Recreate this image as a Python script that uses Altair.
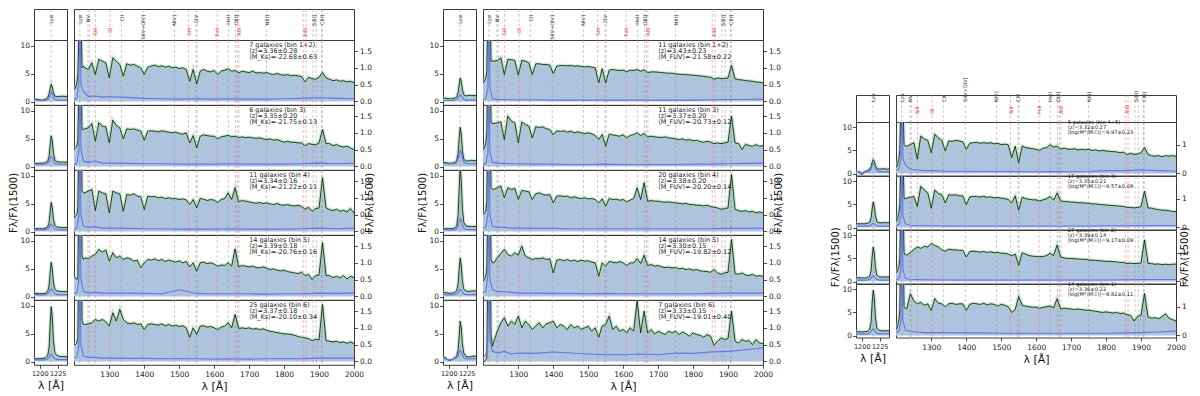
import altair as alt
import pandas as pd

FONT = "DejaVu Sans"
FILL = "#aec3dd"
BLACK = "#0d0d0d"
HALO = "#9edaa9"
ERRC = "#6673ee"
FRAME = "#3a3a3a"
GREY = "#9a9a9a"
RED = "#f07878"
TXT = "#222222"

# ---------------- wavelength grids ----------------
R_WAVE = [1199, 1203, 1207, 1210, 1213, 1216, 1219, 1222, 1226,
          1230, 1240, 1250, 1260, 1270, 1280, 1290, 1300, 1310, 1320,
          1330, 1340, 1350, 1360, 1370, 1380, 1390, 1400, 1410, 1420,
          1430, 1440, 1450, 1460, 1470, 1480, 1490, 1500, 1510, 1520,
          1530, 1540, 1550, 1560, 1570, 1580, 1590, 1600, 1610, 1620,
          1630, 1640, 1650, 1660, 1670, 1680, 1690, 1700, 1710, 1720,
          1730, 1740, 1750, 1760, 1770, 1780, 1790, 1800, 1810, 1820,
          1830, 1840, 1850, 1860, 1870, 1880, 1890, 1900, 1910, 1920,
          1930, 1940, 1950, 1960, 1970, 1980, 1990, 2000]
L_WAVE = [1192, 1196, 1200, 1204, 1208, 1211, 1213, 1214.5, 1216, 1217.5,
          1219, 1221, 1224, 1228, 1232, 1235, 1238]
E_WAVE = [1199, 1207, 1213, 1216, 1219, 1226, 1240, 1260, 1280, 1300, 1350, 1400,
          1450, 1500, 1550, 1600, 1650, 1700, 1750, 1800, 1850, 1900, 1950, 2000]

# ---------------- spectral line markers ----------------
MARK_WAVE = [1215.7, 1238.8, 1242.8, 1260.4, 1302.2, 1334.5, 1397.0, 1486.5, 1526.7,
             1548.2, 1550.8, 1608.5, 1640.4, 1660.8, 1666.2, 1670.8, 1750.0, 1854.7,
             1862.8, 1882.7, 1892.0, 1907.0, 1909.0]
MARK_KIND = ["em", "em", "em", "abs", "abs", "em", "em", "em", "abs",
             "em", "em", "abs", "em", "em", "em", "abs", "em", "abs",
             "abs", "em", "em", "em", "em"]
LABEL_TEXT = ["Lyα", "NV", "CII", "SiIV+OIV]", "NIV]", "CIV", "HeII", "OIII]", "NIII]",
              "SiIII]", "CIII]", "SiII", "OI", "SiII", "FeII", "AlII", "AlIII"]
LABEL_WAVE = [1216, 1240, 1335, 1397, 1486, 1549, 1640, 1663, 1750,
              1886, 1908, 1260, 1302, 1527, 1608, 1671, 1859]
LABEL_KIND = ["em"] * 11 + ["abs"] * 6

# ---------------- group 1: M_Ks bins ----------------
KS_B12 = [0.35, 0.4, 0.55, 0.8, 2.0, 5.0, 2.5, 1.0, 1.05,
          1.0, 0.95, 1.15, 0.8, 1.25, 1.2, 1.15, 0.7, 1.3, 1.2,
          1.1, 0.75, 1.12, 1.08, 1.1, 1.05, 1.0, 0.8, 1.02, 1.05,
          1.08, 1.04, 1.06, 1.02, 1.05, 1.0, 1.02, 0.98, 1.0, 0.95,
          0.6, 0.95, 0.52, 0.9, 0.95, 0.9, 0.88, 0.92, 0.8, 0.9,
          0.93, 0.97, 0.9, 0.92, 0.85, 0.9, 0.88, 0.86, 0.9, 0.85,
          0.86, 0.84, 0.86, 0.82, 0.8, 0.83, 0.8, 0.78, 0.8, 0.76,
          0.78, 0.76, 0.74, 0.58, 0.72, 0.68, 0.66, 0.72, 0.86, 0.7,
          0.66, 0.62, 0.64, 0.6, 0.62, 0.58, 0.6, 0.56]
KS_B3 = [0.5, 0.55, 0.6, 0.75, 2.5, 7.0, 3.0, 1.1, 1.1,
         1.12, 1.15, 1.28, 0.75, 1.3, 1.2, 1.18, 0.7, 1.38, 1.22,
         1.15, 0.82, 1.12, 1.1, 1.12, 1.08, 1.05, 0.78, 1.05, 1.06,
         1.05, 1.03, 1.06, 1.04, 1.02, 1.0, 1.02, 0.98, 0.96, 1.0,
         0.7, 0.92, 0.55, 0.9, 0.94, 0.92, 0.9, 0.9, 0.82, 0.88,
         0.9, 0.93, 0.88, 0.9, 0.86, 0.88, 0.86, 0.87, 0.85, 0.84,
         0.85, 0.82, 0.8, 0.82, 0.78, 0.8, 0.76, 0.72, 0.75, 0.72,
         0.72, 0.7, 0.7, 0.62, 0.68, 0.66, 0.64, 0.7, 1.1, 0.68,
         0.68, 0.62, 0.65, 0.6, 0.58, 0.6, 0.55, 0.5]
KS_B4 = [0.4, 0.45, 0.5, 0.7, 3.0, 8.0, 3.5, 1.2, 1.15,
         1.15, 1.2, 1.25, 0.62, 1.2, 1.15, 1.12, 0.55, 1.2, 1.15,
         1.12, 0.6, 1.1, 1.08, 1.12, 1.05, 1.03, 0.65, 1.05, 1.03,
         1.04, 1.0, 1.02, 0.98, 1.0, 0.97, 0.98, 0.95, 0.97, 0.94,
         0.8, 0.95, 0.7, 0.98, 0.96, 0.92, 0.95, 0.93, 0.86, 0.95,
         0.98, 1.15, 0.95, 1.3, 0.88, 0.92, 0.9, 0.88, 0.86, 0.84,
         0.86, 0.83, 0.85, 0.82, 0.8, 0.83, 0.79, 0.78, 0.8, 0.77,
         0.76, 0.78, 0.74, 0.66, 0.72, 0.6, 0.68, 0.7, 1.6, 0.7,
         0.65, 0.62, 0.66, 0.6, 0.63, 0.58, 0.68, 0.55]
KS_B5 = [0.6, 0.55, 0.5, 0.6, 3.0, 9.0, 4.0, 1.2, 1.1,
         1.15, 1.12, 1.2, 1.25, 1.4, 1.32, 1.38, 1.05, 1.3, 1.15,
         1.2, 1.1, 1.15, 1.12, 1.05, 1.08, 0.85, 1.0, 1.1, 1.08,
         1.12, 1.06, 1.1, 1.04, 1.08, 1.05, 1.02, 1.06, 1.0, 1.04,
         0.88, 1.0, 0.75, 1.0, 1.02, 0.98, 1.0, 0.96, 0.9, 0.94,
         0.92, 1.0, 0.9, 1.42, 0.88, 0.92, 0.9, 0.88, 0.9, 0.86,
         0.85, 0.88, 0.84, 0.8, 0.82, 0.78, 0.76, 0.78, 0.74, 0.72,
         0.7, 0.68, 0.72, 0.62, 0.66, 0.5, 0.62, 0.64, 1.6, 0.62,
         0.62, 0.56, 0.6, 0.55, 0.62, 0.52, 0.6, 0.56]
KS_B6 = [0.5, 0.5, 0.55, 0.7, 3.5, 10.0, 4.5, 1.2, 1.1,
         1.1, 1.12, 1.15, 1.25, 1.2, 1.25, 1.18, 1.05, 1.45, 1.2,
         1.55, 1.25, 1.15, 1.12, 1.15, 1.1, 1.12, 0.95, 1.1, 1.12,
         1.1, 1.08, 1.12, 1.06, 1.1, 1.05, 1.08, 1.04, 1.06, 1.0,
         0.72, 1.0, 0.8, 1.05, 1.06, 1.02, 1.04, 1.0, 0.95, 1.02,
         1.05, 1.15, 1.0, 1.4, 0.98, 1.0, 0.98, 1.0, 0.96, 0.98,
         0.95, 0.97, 0.93, 0.9, 0.88, 0.86, 0.84, 0.82, 0.82, 0.8,
         0.78, 0.74, 0.72, 0.7, 0.68, 0.62, 0.66, 0.64, 1.7, 0.62,
         0.6, 0.58, 0.6, 0.56, 0.58, 0.54, 0.58, 0.53]
KS_ERR_B12 = [0.05, 0.1, 0.6, 2.5, 0.5, 0.3, 0.15, 0.16, 0.13, 0.14, 0.12, 0.09,
              0.08, 0.07, 0.08, 0.07, 0.08, 0.07, 0.07, 0.08, 0.09, 0.11, 0.09, 0.08]
KS_ERR_B3 = [0.05, 0.1, 0.5, 2.5, 0.5, 0.15, 0.12, 0.16, 0.1, 0.1, 0.09, 0.08,
             0.08, 0.07, 0.07, 0.07, 0.08, 0.07, 0.07, 0.07, 0.08, 0.1, 0.08, 0.1]
KS_ERR_B4 = [0.05, 0.1, 0.5, 2.5, 0.5, 0.15, 0.12, 0.14, 0.1, 0.1, 0.09, 0.08,
             0.08, 0.07, 0.07, 0.07, 0.08, 0.07, 0.07, 0.07, 0.08, 0.1, 0.08, 0.1]
KS_ERR_B5 = [0.1, 0.1, 0.5, 2.5, 0.5, 0.15, 0.1, 0.12, 0.1, 0.1, 0.1, 0.09,
             0.08, 0.2, 0.09, 0.08, 0.08, 0.08, 0.07, 0.08, 0.08, 0.1, 0.09, 0.1]
KS_ERR_B6 = [0.1, 0.12, 0.5, 2.5, 0.5, 0.15, 0.12, 0.12, 0.1, 0.1, 0.09, 0.09,
             0.08, 0.08, 0.08, 0.07, 0.08, 0.07, 0.08, 0.08, 0.08, 0.1, 0.1, 0.1]
KS_LYA_B12 = [0.45, 0.4, 0.3, 0.25, 0.4, 0.7, 1.3, 2.3, 3.1, 2.6, 1.6, 1.0, 0.85, 0.9, 0.95, 0.9, 0.95]
KS_LYA_B3 = [0.6, 0.55, 0.6, 0.6, 0.7, 0.9, 1.8, 3.8, 5.5, 4.6, 2.5, 1.2, 0.85, 0.8, 0.8, 0.75, 0.8]
KS_LYA_B4 = [0.5, 0.5, 0.5, 0.5, 0.6, 0.8, 1.6, 3.5, 5.2, 4.3, 2.3, 1.1, 0.8, 0.75, 0.7, 0.7, 0.7]
KS_LYA_B5 = [0.6, 0.55, 0.5, 0.5, 0.6, 0.9, 1.9, 4.2, 6.1, 5.0, 2.6, 1.3, 1.0, 0.9, 0.9, 0.85, 0.9]
KS_LYA_B6 = [0.5, 0.5, 0.5, 0.55, 0.7, 1.0, 2.5, 6.5, 9.8, 8.0, 3.8, 1.6, 1.1, 0.9, 0.9, 0.85, 0.9]
KS_LYB_B12 = [0.25, 0.25, 0.2, 0.15, 0.2, 0.35, 0.7, 1.3, 1.7, 1.4, 0.8, 0.4, 0.25, 0.25, 0.25, 0.25, 0.25]
KS_LYB_B3 = [0.45, 0.4, 0.4, 0.4, 0.45, 0.6, 1.0, 1.5, 1.8, 1.6, 1.1, 0.6, 0.45, 0.4, 0.4, 0.4, 0.4]
KS_LYB_B4 = [0.3, 0.3, 0.3, 0.3, 0.35, 0.45, 0.7, 1.1, 1.3, 1.2, 0.8, 0.45, 0.35, 0.3, 0.3, 0.3, 0.3]
KS_LYB_B5 = [0.35, 0.35, 0.3, 0.3, 0.35, 0.5, 0.8, 1.2, 1.4, 1.25, 0.85, 0.5, 0.35, 0.35, 0.35, 0.35, 0.35]
KS_LYB_B6 = [0.35, 0.35, 0.3, 0.3, 0.35, 0.5, 0.8, 1.1, 1.3, 1.2, 0.8, 0.5, 0.35, 0.35, 0.35, 0.35, 0.35]
KS_NOTES = ["7 galaxies (bin 1+2)\n⟨z⟩=3.36±0.28\n⟨M_Ks⟩=-22.68±0.63",
            "6 galaxies (bin 3)\n⟨z⟩=3.35±0.20\n⟨M_Ks⟩=-21.75±0.13",
            "11 galaxies (bin 4)\n⟨z⟩=3.34±0.16\n⟨M_Ks⟩=-21.22±0.11",
            "14 galaxies (bin 5)\n⟨z⟩=3.39±0.18\n⟨M_Ks⟩=-20.76±0.16",
            "25 galaxies (bin 6)\n⟨z⟩=3.37±0.18\n⟨M_Ks⟩=-20.10±0.34"]

# ---------------- group 2: M_FUV bins ----------------
FUV_B12 = [0.55, 0.6, 0.7, 0.9, 3.0, 8.0, 3.0, 1.2, 1.2,
           1.2, 1.22, 1.3, 0.8, 1.25, 1.24, 1.22, 0.78, 1.22, 1.2,
           1.15, 0.8, 1.12, 1.12, 1.1, 1.1, 1.08, 0.83, 1.05, 1.07,
           1.07, 1.06, 1.07, 1.05, 1.06, 1.04, 1.03, 1.04, 1.02, 1.0,
           0.55, 0.98, 0.55, 0.93, 0.95, 0.93, 0.92, 0.93, 0.88, 0.93,
           0.92, 0.95, 0.9, 0.94, 0.86, 0.88, 0.88, 0.87, 0.86, 0.85,
           0.84, 0.84, 0.82, 0.81, 0.8, 0.8, 0.79, 0.78, 0.77, 0.76,
           0.75, 0.73, 0.72, 0.66, 0.7, 0.68, 0.68, 0.7, 1.07, 0.67,
           0.65, 0.64, 0.62, 0.61, 0.6, 0.58, 0.57, 0.55]
FUV_B3 = [0.5, 0.55, 0.7, 1.0, 3.0, 9.0, 3.5, 1.3, 1.28,
          1.28, 1.3, 1.33, 0.8, 1.5, 1.35, 1.3, 0.7, 1.32, 1.25,
          1.2, 0.85, 1.18, 1.16, 1.18, 1.12, 1.1, 0.94, 1.06, 1.04,
          1.06, 1.02, 1.05, 1.0, 1.03, 1.0, 0.98, 1.0, 0.97, 0.92,
          0.8, 0.95, 0.6, 0.96, 0.94, 0.92, 0.9, 0.94, 0.85, 0.92,
          0.95, 1.0, 0.92, 0.98, 0.88, 0.9, 0.88, 0.87, 0.86, 0.88,
          0.85, 0.84, 0.82, 0.8, 0.82, 0.78, 0.8, 0.76, 0.78, 0.74,
          0.72, 0.75, 0.72, 0.68, 0.7, 0.68, 0.7, 0.72, 1.5, 0.7,
          0.68, 0.5, 0.66, 0.62, 0.6, 0.65, 0.6, 0.62]
FUV_B4 = [0.5, 0.55, 0.6, 0.9, 3.5, 10.0, 4.0, 1.3, 1.25,
          1.25, 1.3, 1.35, 1.0, 1.3, 1.25, 1.28, 0.95, 1.22, 1.2,
          1.18, 0.95, 1.12, 1.15, 1.1, 1.08, 1.1, 0.85, 1.05, 1.06,
          1.04, 1.05, 1.0, 1.03, 1.0, 0.98, 1.0, 0.97, 0.98, 0.95,
          0.85, 0.97, 0.75, 0.98, 0.95, 0.96, 0.93, 0.95, 0.88, 0.93,
          0.98, 1.3, 0.95, 1.45, 0.9, 0.92, 0.9, 0.9, 0.88, 0.87,
          0.88, 0.86, 0.85, 0.84, 0.82, 0.84, 0.8, 0.8, 0.78, 0.78,
          0.76, 0.78, 0.74, 0.72, 0.7, 0.66, 0.68, 0.7, 1.7, 0.66,
          0.62, 0.6, 0.62, 0.58, 0.6, 0.55, 0.58, 0.55]
FUV_B5 = [0.45, 0.5, 0.6, 0.8, 3.0, 9.0, 4.0, 1.1, 1.0,
          1.0, 1.15, 1.28, 1.4, 1.25, 1.2, 1.3, 1.23, 1.5, 1.2,
          1.15, 1.1, 1.13, 1.12, 1.15, 1.1, 1.12, 0.7, 1.08, 1.1,
          1.06, 1.1, 1.05, 1.08, 1.04, 1.08, 1.05, 1.06, 1.02, 1.0,
          0.6, 1.0, 0.9, 1.04, 1.02, 1.0, 1.04, 1.0, 0.92, 1.0,
          1.0, 1.13, 0.98, 1.23, 0.92, 0.95, 0.9, 0.92, 0.88, 0.86,
          0.87, 0.85, 0.86, 0.82, 0.84, 0.8, 0.82, 0.78, 0.8, 0.76,
          0.75, 0.74, 0.72, 0.8, 0.7, 0.66, 0.7, 0.72, 1.7, 0.68,
          0.66, 0.7, 0.64, 0.62, 0.66, 0.6, 0.62, 0.6]
FUV_B6 = [0.0, 0.0, 0.05, 0.1, 3.0, 9.0, 4.0, 0.8, 0.45,
          0.6, 0.9, 1.15, 1.3, 1.05, 1.2, 1.1, 1.35, 1.0, 1.2,
          1.1, 0.95, 1.06, 1.15, 1.0, 1.12, 1.15, 1.2, 1.0, 1.1,
          1.05, 0.95, 1.1, 1.0, 1.05, 0.95, 1.0, 1.05, 0.9, 1.0,
          0.72, 1.05, 1.1, 1.35, 0.95, 1.05, 0.9, 0.95, 0.85, 1.0,
          0.9, 1.8, 0.85, 1.5, 0.85, 0.95, 0.82, 0.9, 0.85, 0.8,
          0.9, 0.85, 0.9, 0.8, 0.88, 0.82, 0.75, 0.85, 0.8, 0.78,
          0.72, 0.8, 0.75, 0.48, 0.6, 0.7, 0.65, 0.68, 1.5, 0.6,
          0.55, 0.65, 0.6, 0.62, 0.5, 0.65, 0.55, 0.53]
FUV_ERR_B12 = [0.05, 0.08, 0.4, 2.5, 0.4, 0.08, 0.06, 0.06, 0.05, 0.05, 0.05, 0.04,
               0.04, 0.04, 0.04, 0.04, 0.04, 0.04, 0.04, 0.04, 0.05, 0.06, 0.06, 0.07]
FUV_ERR_B3 = [0.05, 0.1, 0.4, 2.5, 0.4, 0.12, 0.1, 0.09, 0.08, 0.08, 0.07, 0.07,
              0.06, 0.06, 0.07, 0.06, 0.06, 0.06, 0.06, 0.07, 0.07, 0.08, 0.09, 0.1]
FUV_ERR_B4 = [0.1, 0.12, 0.5, 2.5, 0.5, 0.15, 0.12, 0.12, 0.1, 0.1, 0.09, 0.09,
              0.08, 0.08, 0.08, 0.08, 0.08, 0.08, 0.08, 0.08, 0.08, 0.09, 0.09, 0.1]
FUV_ERR_B5 = [0.1, 0.15, 0.6, 2.5, 0.5, 0.2, 0.15, 0.14, 0.12, 0.1, 0.1, 0.09,
              0.09, 0.08, 0.09, 0.08, 0.08, 0.08, 0.08, 0.08, 0.09, 0.1, 0.1, 0.1]
FUV_ERR_B6 = [0.1, 0.2, 0.6, 2.5, 0.6, 0.3, 0.25, 0.3, 0.22, 0.25, 0.24, 0.28,
              0.25, 0.22, 0.2, 0.2, 0.22, 0.2, 0.25, 0.24, 0.28, 0.3, 0.35, 0.4]
FUV_LYA_B12 = [0.6, 0.6, 0.5, 0.5, 0.6, 0.8, 1.6, 3.0, 4.2, 3.6, 2.2, 1.2, 1.0, 1.1, 1.1, 1.05, 1.1]
FUV_LYA_B3 = [0.7, 0.7, 0.6, 0.6, 0.7, 1.0, 2.3, 5.0, 7.0, 5.8, 3.0, 1.3, 1.0, 1.0, 1.1, 1.05, 1.1]
FUV_LYA_B4 = [0.5, 0.5, 0.5, 0.5, 0.6, 1.0, 2.8, 7.5, 11.5, 9.0, 4.2, 1.6, 1.0, 0.9, 0.9, 0.9, 0.9]
FUV_LYA_B5 = [0.7, 0.7, 0.6, 0.6, 0.7, 1.0, 2.2, 4.8, 6.9, 5.6, 2.9, 1.3, 1.0, 0.9, 1.0, 1.0, 1.0]
FUV_LYA_B6 = [0.9, 0.6, 0.2, 0.3, 0.6, 1.0, 2.0, 4.5, 7.2, 6.0, 3.2, 1.5, 0.9, 0.8, 0.9, 1.0, 0.9]
FUV_LYB_B12 = [0.2, 0.2, 0.2, 0.2, 0.25, 0.35, 0.6, 0.95, 1.2, 1.05, 0.7, 0.35, 0.25, 0.25, 0.25, 0.25, 0.25]
FUV_LYB_B3 = [0.5, 0.5, 0.45, 0.45, 0.5, 0.7, 1.3, 2.2, 2.9, 2.5, 1.5, 0.8, 0.55, 0.5, 0.5, 0.5, 0.5]
FUV_LYB_B4 = [0.35, 0.35, 0.3, 0.3, 0.35, 0.5, 1.0, 1.8, 2.3, 2.0, 1.2, 0.6, 0.4, 0.35, 0.35, 0.35, 0.35]
FUV_LYB_B5 = [0.35, 0.35, 0.3, 0.3, 0.35, 0.5, 0.8, 1.15, 1.3, 1.2, 0.8, 0.5, 0.35, 0.35, 0.35, 0.35, 0.35]
FUV_LYB_B6 = [0.5, 0.45, 0.3, 0.35, 0.5, 0.7, 1.1, 1.7, 2.0, 1.8, 1.2, 0.7, 0.5, 0.45, 0.5, 0.5, 0.5]
FUV_NOTES = ["11 galaxies (bin 1+2)\n⟨z⟩=3.43±0.23\n⟨M_FUV⟩=-21.58±0.22",
             "11 galaxies (bin 3)\n⟨z⟩=3.37±0.20\n⟨M_FUV⟩=-20.73±0.12",
             "20 galaxies (bin 4)\n⟨z⟩=3.38±0.20\n⟨M_FUV⟩=-20.20±0.14",
             "14 galaxies (bin 5)\n⟨z⟩=3.30±0.15\n⟨M_FUV⟩=-19.82±0.12",
             "7 galaxies (bin 6)\n⟨z⟩=3.33±0.15\n⟨M_FUV⟩=-19.01±0.40"]

# ---------------- group 3: stellar-mass bins ----------------
MASS_B45 = [0.2, 0.3, 0.5, 0.8, 2.5, 6.0, 2.5, 1.0, 0.95,
            0.95, 1.0, 1.07, 0.5, 1.3, 1.2, 1.15, 0.72, 1.36, 1.24,
            1.15, 0.78, 1.13, 1.12, 1.15, 1.13, 1.1, 0.84, 1.05, 1.07,
            1.08, 1.05, 1.07, 1.05, 1.07, 1.03, 1.05, 1.0, 1.02, 1.0,
            0.55, 0.95, 0.37, 0.95, 0.9, 0.88, 0.86, 0.84, 0.8, 0.88,
            0.9, 1.0, 0.92, 0.95, 0.85, 0.88, 0.85, 0.84, 0.86, 0.82,
            0.84, 0.82, 0.84, 0.8, 0.82, 0.78, 0.8, 0.78, 0.77, 0.76,
            0.75, 0.72, 0.74, 0.65, 0.7, 0.66, 0.68, 0.72, 0.9, 0.66,
            0.62, 0.6, 0.62, 0.58, 0.62, 0.6, 0.62, 0.6]
MASS_B3 = [0.2, 0.3, 0.5, 0.8, 2.5, 6.0, 2.5, 1.0, 1.0,
           1.02, 1.05, 1.08, 0.73, 1.43, 1.3, 1.2, 0.67, 1.3, 1.18,
           1.14, 0.85, 1.14, 1.12, 1.14, 1.1, 1.1, 0.79, 1.06, 1.08,
           1.07, 1.06, 1.08, 1.05, 1.06, 1.03, 1.04, 1.02, 1.0, 0.98,
           0.85, 1.1, 0.6, 1.05, 1.0, 0.98, 0.96, 0.96, 0.92, 0.96,
           1.0, 1.08, 0.95, 1.2, 0.92, 0.9, 0.9, 0.88, 0.88, 0.86,
           0.86, 0.85, 0.84, 0.82, 0.82, 0.8, 0.79, 0.78, 0.77, 0.76,
           0.75, 0.74, 0.73, 0.7, 0.7, 0.68, 0.7, 0.72, 1.26, 0.68,
           0.67, 0.64, 0.62, 0.6, 0.6, 0.58, 0.56, 0.55]
MASS_B2 = [0.3, 0.35, 0.5, 0.8, 3.0, 8.0, 3.0, 1.0, 0.92,
           0.92, 1.0, 1.1, 1.2, 1.15, 1.22, 1.2, 1.32, 1.25, 1.2,
           1.1, 1.05, 1.12, 1.1, 1.1, 1.08, 1.08, 0.85, 1.04, 1.05,
           1.04, 1.02, 1.04, 1.01, 1.03, 1.0, 1.01, 0.98, 0.98, 0.95,
           0.9, 0.95, 0.56, 1.0, 0.95, 0.9, 0.88, 0.87, 0.86, 0.87,
           0.9, 0.98, 0.9, 1.27, 0.85, 0.82, 0.8, 0.8, 0.79, 0.78,
           0.77, 0.77, 0.75, 0.74, 0.73, 0.72, 0.71, 0.7, 0.7, 0.69,
           0.68, 0.66, 0.66, 0.62, 0.64, 0.62, 0.63, 0.64, 1.45, 0.63,
           0.62, 0.6, 0.61, 0.58, 0.6, 0.58, 0.6, 0.6]
MASS_B1 = [0.2, 0.3, 0.5, 0.9, 3.5, 10.0, 4.0, 1.0, 0.93,
           0.93, 1.45, 1.2, 1.1, 1.15, 1.05, 1.1, 0.87, 1.28, 1.12,
           1.1, 1.0, 1.1, 1.12, 1.08, 1.1, 1.1, 0.87, 1.08, 1.12,
           1.1, 1.08, 1.12, 1.06, 1.1, 1.08, 1.02, 1.08, 1.05, 1.0,
           0.8, 0.9, 1.35, 1.05, 1.02, 1.0, 0.98, 0.99, 0.94, 0.98,
           1.0, 1.02, 0.96, 1.28, 0.92, 0.95, 0.93, 0.92, 0.9, 0.92,
           0.9, 0.88, 0.88, 0.86, 0.84, 0.82, 0.8, 0.82, 0.8, 0.78,
           0.8, 0.76, 0.78, 0.72, 0.7, 0.5, 0.66, 0.7, 1.46, 0.64,
           0.6, 0.62, 0.58, 0.66, 0.75, 0.6, 0.55, 0.5]
MASS_ERR_B45 = [0.1, 0.15, 0.5, 2.5, 0.5, 0.3, 0.15, 0.12, 0.1, 0.1, 0.08, 0.08,
                0.07, 0.07, 0.07, 0.06, 0.07, 0.06, 0.07, 0.1, 0.1, 0.12, 0.1, 0.08]
MASS_ERR_B3 = [0.05, 0.1, 0.4, 2.5, 0.4, 0.12, 0.08, 0.07, 0.06, 0.06, 0.05, 0.05,
               0.05, 0.05, 0.05, 0.05, 0.05, 0.05, 0.05, 0.06, 0.06, 0.07, 0.07, 0.07]
MASS_ERR_B2 = [0.05, 0.1, 0.4, 2.5, 0.4, 0.1, 0.08, 0.07, 0.06, 0.06, 0.05, 0.05,
               0.05, 0.05, 0.05, 0.05, 0.05, 0.05, 0.05, 0.05, 0.06, 0.07, 0.07, 0.07]
MASS_ERR_B1 = [0.1, 0.15, 0.5, 2.5, 0.5, 0.18, 0.15, 0.12, 0.1, 0.1, 0.1, 0.09,
               0.09, 0.08, 0.08, 0.08, 0.08, 0.08, 0.08, 0.08, 0.09, 0.1, 0.12, 0.15]
MASS_LYA_B45 = [0.5, 0.3, -0.3, 0.4, 0.6, 0.9, 1.4, 2.4, 3.0, 2.6, 1.7, 1.1, 0.9, 1.0, 1.0, 0.9, 1.0]
MASS_LYA_B3 = [0.8, 0.8, 0.8, 0.8, 0.9, 1.1, 2.0, 4.0, 5.5, 4.6, 2.6, 1.3, 1.0, 1.0, 1.05, 1.0, 1.05]
MASS_LYA_B2 = [0.8, 0.8, 0.75, 0.75, 0.8, 1.1, 2.3, 5.3, 7.4, 6.2, 3.2, 1.4, 1.0, 0.95, 0.95, 0.95, 1.0]
MASS_LYA_B1 = [0.8, 0.8, 0.75, 0.8, 0.9, 1.3, 2.8, 7.0, 9.7, 8.2, 4.0, 1.6, 1.1, 1.0, 1.0, 1.0, 1.05]
MASS_LYB_B45 = [0.5, 0.4, 0.2, 0.3, 0.4, 0.6, 1.0, 1.7, 2.2, 1.9, 1.2, 0.6, 0.4, 0.35, 0.35, 0.35, 0.35]
MASS_LYB_B3 = [0.3, 0.3, 0.3, 0.3, 0.3, 0.4, 0.55, 0.75, 0.85, 0.8, 0.6, 0.4, 0.3, 0.3, 0.3, 0.3, 0.3]
MASS_LYB_B2 = [0.3, 0.3, 0.3, 0.3, 0.35, 0.5, 0.75, 1.05, 1.2, 1.1, 0.75, 0.45, 0.35, 0.3, 0.3, 0.3, 0.3]
MASS_LYB_B1 = [0.35, 0.35, 0.3, 0.3, 0.35, 0.55, 0.85, 1.2, 1.4, 1.3, 0.85, 0.5, 0.35, 0.35, 0.35, 0.35, 0.35]
MASS_NOTES = ["5 galaxies (bin 4+5)\n⟨z⟩=3.32±0.27\n⟨log(M*/M☉)⟩=9.97±0.23",
              "17 galaxies (bin 3)\n⟨z⟩=3.35±0.21\n⟨log(M*/M☉)⟩=9.57±0.08",
              "27 galaxies (bin 2)\n⟨z⟩=3.39±0.14\n⟨log(M*/M☉)⟩=9.17±0.09",
              "14 galaxies (bin 1)\n⟨z⟩=3.36±0.22\n⟨log(M*/M☉)⟩=8.82±0.11"]

YTITLE = "Fλ/Fλ(1500)"
XTITLE = "λ [Å]"

WIDE_DOM = [1199, 2000]
NARROW_DOM = [1192, 1238]


def marks_df():
    return pd.DataFrame({"w": MARK_WAVE,
                         "c": [GREY if k == "em" else RED for k in MARK_KIND]})


def x_axis(bottom, narrow):
    if not bottom:
        return None
    vals = [1200, 1225] if narrow else [1300, 1400, 1500, 1600, 1700, 1800, 1900, 2000]
    return alt.Axis(values=vals, format="d", title=XTITLE, grid=False, domain=False,
                    tickSize=3.5, labelFontSize=6.5 if narrow else 7.5, labelPadding=2,
                    titlePadding=3, titleFontSize=11, titleFontWeight="normal",
                    labelFlush=False, labelOverlap=False)


def wide_row(flux, err, note, h, ydom, yvals, yfmt, bottom, show_title, fs, lh, tx, ty):
    xs = alt.Scale(domain=WIDE_DOM, nice=False, zero=False)
    ys = alt.Scale(domain=ydom, nice=False, zero=False)
    yaxis = alt.Axis(orient="right", values=yvals, format=yfmt,
                     title=YTITLE if show_title else None, titleAngle=270,
                     grid=False, domain=False, tickSize=3.5, labelFontSize=7.5,
                     labelPadding=2, titlePadding=3, titleFontSize=10,
                     titleFontWeight="normal", labelFlush=False)
    X = alt.X("w:Q", scale=xs, axis=x_axis(bottom, False))
    Y = alt.Y("f:Q", scale=ys, axis=yaxis)
    spec = pd.DataFrame({"w": R_WAVE, "f": flux})
    edf = pd.DataFrame({"w": E_WAVE, "f": err})
    area = alt.Chart(spec).mark_area(color=FILL, clip=True).encode(x=X, y=Y, y2=alt.datum(0))
    rules = alt.Chart(marks_df()).mark_rule(strokeDash=[3, 2], strokeWidth=0.7, opacity=0.75).encode(
        x=X, color=alt.Color("c:N", scale=None))
    halo = alt.Chart(spec).mark_line(color=HALO, strokeWidth=3.4, opacity=0.6, clip=True).encode(x=X, y=Y)
    line = alt.Chart(spec).mark_line(color=BLACK, strokeWidth=0.8, clip=True).encode(x=X, y=Y)
    eline = alt.Chart(edf).mark_line(color=ERRC, strokeWidth=1.1, clip=True).encode(x=X, y=Y)
    text = alt.Chart(pd.DataFrame({"t": [note]})).mark_text(
        align="left", baseline="top", fontSize=fs, lineHeight=lh, lineBreak="\n",
        font=FONT, color=TXT).encode(
        x=alt.X(datum=tx, scale=xs, axis=x_axis(bottom, False)),
        y=alt.Y(datum=ty, scale=ys, axis=yaxis), text="t:N")
    return alt.layer(area, rules, halo, line, eline, text).properties(width=280, height=h)


def narrow_row(flux, blue, h, ydom, bottom, show_title):
    xs = alt.Scale(domain=NARROW_DOM, nice=False, zero=False)
    ys = alt.Scale(domain=ydom, nice=False, zero=False)
    yaxis = alt.Axis(orient="left", values=[0, 5, 10], format="d",
                     title=YTITLE if show_title else None,
                     grid=False, domain=False, tickSize=3.5, labelFontSize=7.5,
                     labelPadding=1, titlePadding=1, titleFontSize=10,
                     titleFontWeight="normal", labelFlush=False)
    X = alt.X("w:Q", scale=xs, axis=x_axis(bottom, True))
    Y = alt.Y("f:Q", scale=ys, axis=yaxis)
    spec = pd.DataFrame({"w": L_WAVE, "f": flux})
    bdf = pd.DataFrame({"w": L_WAVE, "f": blue})
    area = alt.Chart(spec).mark_area(color=FILL, clip=True).encode(x=X, y=Y, y2=alt.datum(0))
    rule = alt.Chart(pd.DataFrame({"w": [1215.7]})).mark_rule(
        strokeDash=[3, 2], strokeWidth=0.7, color=GREY, opacity=0.75).encode(x=X)
    halo = alt.Chart(spec).mark_line(color=HALO, strokeWidth=3.4, opacity=0.6, clip=True).encode(x=X, y=Y)
    line = alt.Chart(spec).mark_line(color=BLACK, strokeWidth=0.8, clip=True).encode(x=X, y=Y)
    bline = alt.Chart(bdf).mark_line(color=ERRC, strokeWidth=1.1, clip=True).encode(x=X, y=Y)
    return alt.layer(area, rule, halo, line, bline).properties(width=33, height=h)


def wide_strip(h, em_y, abs_y, align):
    xs = alt.Scale(domain=WIDE_DOM, nice=False, zero=False)
    ys = alt.Scale(domain=[0, 1], nice=False, zero=False)
    X = alt.X("w:Q", scale=xs, axis=None)
    rules = alt.Chart(marks_df()).mark_rule(strokeDash=[3, 2], strokeWidth=0.7, opacity=0.75).encode(
        x=X, color=alt.Color("c:N", scale=None))
    lab = pd.DataFrame({"w": LABEL_WAVE, "t": LABEL_TEXT, "k": LABEL_KIND})
    em = alt.Chart(lab).transform_filter(alt.datum.k == "em").mark_text(
        angle=270, align=align, baseline="middle", dx=2, fontSize=5, font=FONT, color="#333333").encode(
        x=X, y=alt.Y(datum=em_y, scale=ys, axis=None), text="t:N")
    ab = alt.Chart(lab).transform_filter(alt.datum.k == "abs").mark_text(
        angle=270, align=align, baseline="middle", dx=2, fontSize=5, font=FONT, color="#dd3333").encode(
        x=X, y=alt.Y(datum=abs_y, scale=ys, axis=None), text="t:N")
    return alt.layer(rules, em, ab).properties(width=280, height=h)


def narrow_strip(h, em_y, align):
    xs = alt.Scale(domain=NARROW_DOM, nice=False, zero=False)
    ys = alt.Scale(domain=[0, 1], nice=False, zero=False)
    X = alt.X("w:Q", scale=xs, axis=None)
    rule = alt.Chart(pd.DataFrame({"w": [1215.7]})).mark_rule(
        strokeDash=[3, 2], strokeWidth=0.7, color=GREY, opacity=0.75).encode(x=X)
    lab = alt.Chart(pd.DataFrame({"w": [1216], "t": ["Lyα"]})).mark_text(
        angle=270, align=align, baseline="middle", dx=2, fontSize=5, font=FONT, color="#333333").encode(
        x=X, y=alt.Y(datum=em_y, scale=ys, axis=None), text="t:N")
    return alt.layer(rule, lab).properties(width=33, height=h)


def spacer(w, h):
    return alt.Chart(pd.DataFrame({"a": [0]})).mark_point(opacity=0).encode(
        x=alt.X("a:Q", axis=None), y=alt.Y("a:Q", axis=None)).properties(
        width=w, height=h, view=alt.ViewBackground(stroke="transparent"))


def group(fluxes, errs, lyas, lybs, notes, row_h, strip_h, rdom, ldom, yvals, yfmt,
          fs, lh, tx, ty, em_y, abs_y, align, title_row, top_space=0):
    n = len(fluxes)
    left = [narrow_strip(strip_h, em_y, align)]
    right = [wide_strip(strip_h, em_y, abs_y, align)]
    for i in range(n):
        bottom = i == n - 1
        left.append(narrow_row(lyas[i], lybs[i], row_h, ldom, bottom, i == title_row))
        right.append(wide_row(fluxes[i], errs[i], notes[i], row_h, rdom, yvals, yfmt,
                              bottom, i == title_row, fs, lh, tx, ty))
    if top_space:
        left = [spacer(33, top_space)] + left
        right = [spacer(280, top_space)] + right
    lc = alt.vconcat(*left, spacing=0, bounds="flush")
    rc = alt.vconcat(*right, spacing=0, bounds="flush")
    return alt.hconcat(lc, rc, spacing=5)


g1 = group([KS_B12, KS_B3, KS_B4, KS_B5, KS_B6],
           [KS_ERR_B12, KS_ERR_B3, KS_ERR_B4, KS_ERR_B5, KS_ERR_B6],
           [KS_LYA_B12, KS_LYA_B3, KS_LYA_B4, KS_LYA_B5, KS_LYA_B6],
           [KS_LYB_B12, KS_LYB_B3, KS_LYB_B4, KS_LYB_B5, KS_LYB_B6],
           KS_NOTES, 64.8, 31, [-0.1, 1.83], [-0.58, 11.0], [0, 0.5, 1, 1.5], ".1f",
           6.5, 5.8, 1700, 1.77, 0.74, 0.33, "right", 2)
g2 = group([FUV_B12, FUV_B3, FUV_B4, FUV_B5, FUV_B6],
           [FUV_ERR_B12, FUV_ERR_B3, FUV_ERR_B4, FUV_ERR_B5, FUV_ERR_B6],
           [FUV_LYA_B12, FUV_LYA_B3, FUV_LYA_B4, FUV_LYA_B5, FUV_LYA_B6],
           [FUV_LYB_B12, FUV_LYB_B3, FUV_LYB_B4, FUV_LYB_B5, FUV_LYB_B6],
           FUV_NOTES, 64.8, 31, [-0.1, 1.83], [-0.58, 11.0], [0, 0.5, 1, 1.5], ".1f",
           6.5, 5.8, 1700, 1.77, 0.74, 0.33, "right", 2)
g3 = group([MASS_B45, MASS_B3, MASS_B2, MASS_B1],
           [MASS_ERR_B45, MASS_ERR_B3, MASS_ERR_B2, MASS_ERR_B1],
           [MASS_LYA_B45, MASS_LYA_B3, MASS_LYA_B2, MASS_LYA_B1],
           [MASS_LYB_B45, MASS_LYB_B3, MASS_LYB_B2, MASS_LYB_B1],
           MASS_NOTES, 53.5, 27, [-0.07, 1.79], [-0.43, 11.08], [0, 1], "d",
           5.2, 4.8, 1690, 1.86, 0.67, 0.22, "left", 2, top_space=86)

chart = alt.hconcat(alt.hconcat(g1, g2, spacing=42), g3, spacing=46).properties(
    padding=0
).configure_view(stroke=FRAME, strokeWidth=1).configure_axis(
    labelFont=FONT, titleFont=FONT, labelColor="#222222", tickColor="#222222",
    titleColor="#111111", tickWidth=0.8)

chart.save("out.html", embed_options={"renderer": "svg", "actions": False})
